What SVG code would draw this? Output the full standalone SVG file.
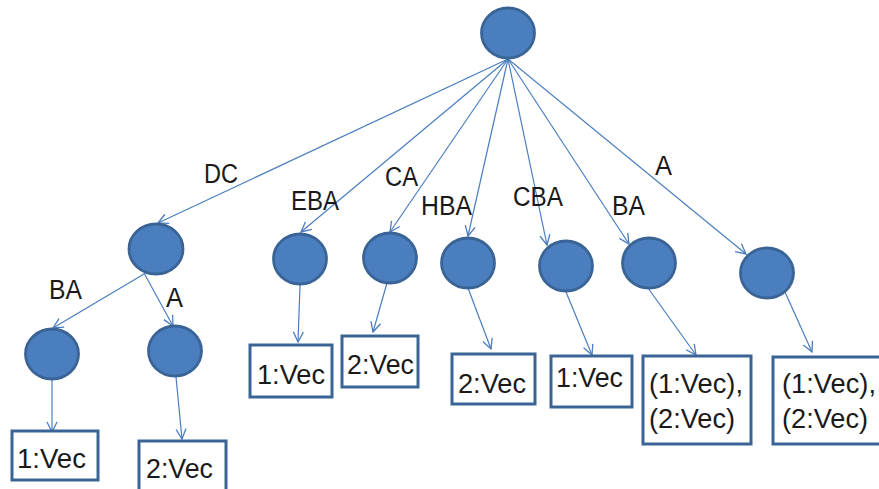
<svg xmlns="http://www.w3.org/2000/svg" width="879" height="489" viewBox="0 0 879 489">
  <style>
    .node { fill: #4a7ebf; stroke: #3a6496; stroke-width: 2.8; }
    .box { fill: #ffffff; stroke: #3a6496; stroke-width: 3; }
    .edge { fill: none; stroke: #4a7ebf; stroke-width: 1.2; marker-end: url(#arrow); }
    .lbl { font-family: "Liberation Sans", Arial, sans-serif; font-size: 27px; fill: #1a1a1a; }
  </style>
  <defs>
    <marker id="arrow" markerUnits="userSpaceOnUse" markerWidth="12" markerHeight="12" viewBox="0 0 12 12" refX="11" refY="6" orient="auto">
      <path d="M1,1 L11,6 L1,11" fill="none" stroke="#4a7ebf" stroke-width="1.3"/>
    </marker>
  </defs>

  <rect width="879" height="489" fill="#ffffff"/>

  <!-- connectors -->
  <g id="edges">
    <line class="edge" x1="508" y1="59" x2="158" y2="223"/>
    <line class="edge" x1="508" y1="59" x2="301" y2="232"/>
    <line class="edge" x1="508" y1="59" x2="390" y2="232"/>
    <line class="edge" x1="508" y1="59" x2="468" y2="236"/>
    <line class="edge" x1="508" y1="59" x2="547" y2="245"/>
    <line class="edge" x1="508" y1="59" x2="629" y2="244"/>
    <line class="edge" x1="508" y1="59" x2="746" y2="254"/>
    <line class="edge" x1="144" y1="274" x2="53" y2="328"/>
    <line class="edge" x1="144" y1="273" x2="173" y2="326"/>
    <line class="edge" x1="52" y1="380" x2="52" y2="432"/>
    <line class="edge" x1="176" y1="377" x2="182" y2="439"/>
    <line class="edge" x1="300" y1="285" x2="298" y2="342"/>
    <line class="edge" x1="387" y1="283" x2="373" y2="332"/>
    <line class="edge" x1="468" y1="288" x2="491" y2="349"/>
    <line class="edge" x1="566" y1="292" x2="592" y2="355"/>
    <line class="edge" x1="648" y1="288" x2="696" y2="355"/>
    <line class="edge" x1="785" y1="292" x2="812" y2="352"/>
  </g>

  <!-- edge labels -->
  <g id="edge-labels">
    <text class="lbl" x="204" y="183" textLength="34" lengthAdjust="spacingAndGlyphs">DC</text>
    <text class="lbl" x="291" y="210" textLength="48" lengthAdjust="spacingAndGlyphs">EBA</text>
    <text class="lbl" x="385" y="186" textLength="33" lengthAdjust="spacingAndGlyphs">CA</text>
    <text class="lbl" x="421" y="215" textLength="51" lengthAdjust="spacingAndGlyphs">HBA</text>
    <text class="lbl" x="513" y="206" textLength="50" lengthAdjust="spacingAndGlyphs">CBA</text>
    <text class="lbl" x="612" y="215" textLength="33" lengthAdjust="spacingAndGlyphs">BA</text>
    <text class="lbl" x="655" y="175" textLength="17" lengthAdjust="spacingAndGlyphs">A</text>
    <text class="lbl" x="49" y="299" textLength="33" lengthAdjust="spacingAndGlyphs">BA</text>
    <text class="lbl" x="166" y="307" textLength="17" lengthAdjust="spacingAndGlyphs">A</text>
  </g>

  <!-- tree nodes -->
  <g id="root"><ellipse class="node" cx="508" cy="33" rx="26.5" ry="25"/></g>
  <g id="n-dc"><ellipse class="node" cx="156" cy="249" rx="27" ry="25"/></g>
  <g id="n-eba"><ellipse class="node" cx="300" cy="259" rx="26.5" ry="25"/></g>
  <g id="n-ca"><ellipse class="node" cx="390" cy="258" rx="26.5" ry="25"/></g>
  <g id="n-hba"><ellipse class="node" cx="468" cy="263" rx="26.5" ry="25"/></g>
  <g id="n-cba"><ellipse class="node" cx="566" cy="266" rx="26.5" ry="25"/></g>
  <g id="n-ba"><ellipse class="node" cx="649" cy="263" rx="26.5" ry="25"/></g>
  <g id="n-a"><ellipse class="node" cx="767" cy="273" rx="26.5" ry="25"/></g>
  <g id="n-dc-ba"><ellipse class="node" cx="52" cy="354" rx="26.5" ry="25"/></g>
  <g id="n-dc-a"><ellipse class="node" cx="175" cy="351" rx="26.5" ry="25"/></g>

  <!-- leaf boxes -->
  <g id="leaf-dc-ba">
    <rect class="box" x="12" y="431" width="86" height="49"/>
    <text class="lbl" x="17" y="468" textLength="69" lengthAdjust="spacingAndGlyphs">1:Vec</text>
  </g>
  <g id="leaf-dc-a">
    <rect class="box" x="139" y="441" width="87" height="52"/>
    <text class="lbl" x="146" y="478" textLength="67" lengthAdjust="spacingAndGlyphs">2:Vec</text>
  </g>
  <g id="leaf-eba">
    <rect class="box" x="250" y="345" width="82" height="52"/>
    <text class="lbl" x="257" y="384" textLength="68" lengthAdjust="spacingAndGlyphs">1:Vec</text>
  </g>
  <g id="leaf-ca">
    <rect class="box" x="342" y="336" width="76" height="51"/>
    <text class="lbl" x="347" y="374" textLength="67" lengthAdjust="spacingAndGlyphs">2:Vec</text>
  </g>
  <g id="leaf-hba">
    <rect class="box" x="452" y="354" width="83" height="50"/>
    <text class="lbl" x="458" y="393" textLength="68" lengthAdjust="spacingAndGlyphs">2:Vec</text>
  </g>
  <g id="leaf-cba">
    <rect class="box" x="551" y="356" width="81" height="51"/>
    <text class="lbl" x="556" y="387" textLength="67" lengthAdjust="spacingAndGlyphs">1:Vec</text>
  </g>
  <g id="leaf-ba">
    <rect class="box" x="643" y="356" width="108" height="88"/>
    <text class="lbl" x="649" y="393" textLength="94" lengthAdjust="spacingAndGlyphs">(1:Vec),</text>
    <text class="lbl" x="649" y="428" textLength="86" lengthAdjust="spacingAndGlyphs">(2:Vec)</text>
  </g>
  <g id="leaf-a">
    <rect class="box" x="773" y="357" width="112" height="87"/>
    <text class="lbl" x="782" y="393" textLength="94" lengthAdjust="spacingAndGlyphs">(1:Vec),</text>
    <text class="lbl" x="782" y="428" textLength="86" lengthAdjust="spacingAndGlyphs">(2:Vec)</text>
  </g>
</svg>
